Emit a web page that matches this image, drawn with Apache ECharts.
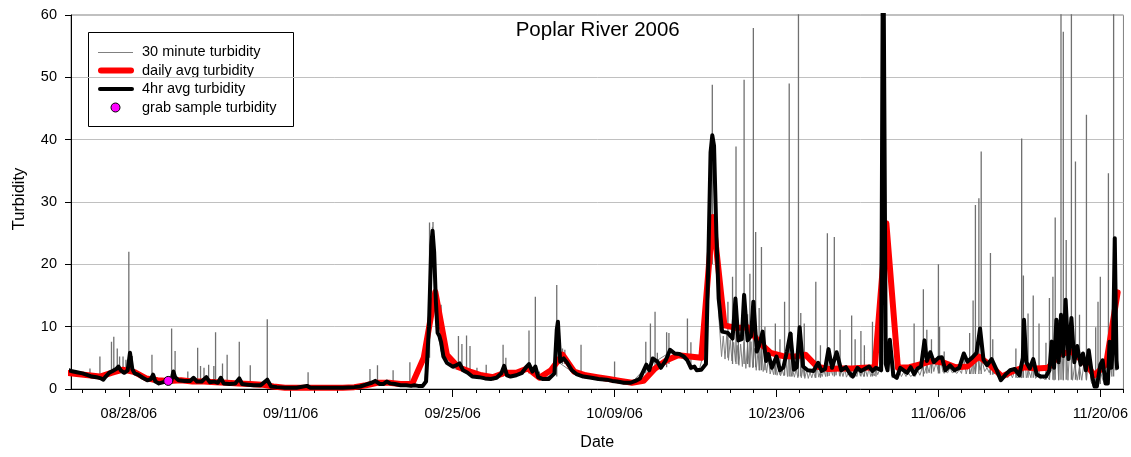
<!DOCTYPE html>
<html>
<head>
<meta charset="utf-8">
<title>Poplar River 2006</title>
<script src="https://cdn.jsdelivr.net/npm/echarts@6/dist/echarts.min.js"></script>
<style>
  html, body { margin: 0; padding: 0; background: #fff; }
  #chart { width: 1131px; height: 457px; }
</style>
</head>
<body>
<div id="chart"></div>
<script>
// Time is measured in days since 08/23/06 00:00.
const START = Date.UTC(2006, 7, 23);
const X_MIN = 0, X_MAX = 91;

const chartTitle = 'Poplar River 2006';
const xAxisTitle = 'Date';
const yAxisTitle = 'Turbidity';
const tickLabels = ['08/28/06', '09/11/06', '09/25/06', '10/09/06', '10/23/06', '11/06/06', '11/20/06'];
const yTicks = [0, 10, 20, 30, 40, 50, 60];

// Daily average turbidity, one value per day starting 08/22/06 (plotted at noon).
const dailyFirstDay = -1;
const dailyAvg = [
  2.6, 2.4, 2.2, 2.0, 2.6, 3.1, 2.7, 1.7, 1.4, 1.3,
  1.4, 1.2, 1.2, 1.1, 1.0, 0.9, 0.8, 0.7, 0.4, 0.2,
  0.2, 0.2, 0.2, 0.2, 0.2, 0.3, 0.6, 1.0, 1.0, 0.8,
  0.8, 5.0, 15.6, 5.5, 3.5, 2.8, 2.2, 1.9, 2.6, 2.6,
  3.3, 1.8, 3.0, 5.5, 2.8, 2.2, 1.9, 1.6, 1.3, 1.0,
  1.3, 3.3, 4.6, 5.4, 5.2, 5.0, 27.6, 10.2, 9.8, 9.9,
  7.5, 5.8, 5.3, 5.2, 5.5, 3.6, 3.2, 3.3, 3.3, 3.4,
  3.5, 26.6, 3.4, 3.5, 4.0, 4.5, 4.2, 3.5, 3.6, 5.2,
  3.8, 2.0, 2.9, 3.5, 3.3, 3.4, 5.6, 6.0, 4.5, 2.2,
  4.0, 15.5
];

// 4-hour average turbidity: [day, value]
const fourHourAvg = [
  [-0.2, 3.0], [0, 2.9], [0.5, 2.7], [1.0, 2.5], [1.5, 2.2], [1.8, 2.0], [2.2, 1.9], [2.6, 1.7], [2.8, 1.5],
  [3.0, 2.0], [3.3, 2.6], [3.6, 2.9], [3.9, 3.2], [4.1, 3.6], [4.3, 3.0], [4.6, 2.6], [4.9, 3.0], [5.1, 5.8],
  [5.3, 3.2], [5.5, 2.5], [5.8, 2.3], [6.2, 1.8], [6.6, 1.4], [6.9, 1.6], [7.1, 2.3], [7.3, 1.2], [7.6, 0.9],
  [8.0, 1.1], [8.4, 1.3], [8.7, 1.5], [8.85, 2.8], [9.0, 1.9], [9.3, 1.4], [9.8, 1.3], [10.3, 1.3], [10.6, 1.8],
  [10.9, 1.2], [11.3, 1.2], [11.7, 1.9], [12.0, 1.1], [12.4, 1.2], [12.7, 1.0], [12.95, 1.8], [13.2, 0.9],
  [13.7, 0.8], [14.2, 0.9], [14.55, 1.7], [14.8, 0.8], [15.3, 0.7], [15.8, 0.6], [16.4, 0.6], [16.97, 1.5],
  [17.3, 0.4], [17.8, 0.3], [18.5, 0.2], [19.5, 0.2], [20.4, 0.5], [20.7, 0.2], [21.5, 0.2], [22.5, 0.2],
  [23.5, 0.2], [24.5, 0.3], [25.0, 0.4], [25.5, 0.7], [26.0, 1.0], [26.3, 1.3], [26.7, 0.8], [27.0, 0.8],
  [27.3, 1.2], [27.6, 0.9], [28.0, 0.8], [28.5, 0.6], [29.0, 0.6], [29.4, 0.5], [29.7, 0.6], [30.0, 0.5],
  [30.4, 0.5], [30.7, 1.2], [30.95, 10], [31.15, 23], [31.26, 25.4], [31.4, 22], [31.55, 14], [31.7, 9.0],
  [31.85, 8.5], [32.0, 7.5], [32.2, 5.2], [32.5, 4.2], [33.0, 3.6], [33.3, 3.8], [33.6, 4.1], [33.9, 3.0],
  [34.3, 2.6], [34.7, 2.0], [35.3, 1.9], [35.8, 1.7], [36.3, 1.6], [36.8, 1.8], [37.2, 2.5], [37.45, 3.7],
  [37.7, 2.2], [38.0, 2.0], [38.5, 2.2], [39.0, 2.6], [39.4, 3.6], [39.6, 4.0], [39.9, 2.8], [40.15, 3.6],
  [40.4, 1.9], [40.8, 1.6], [41.3, 1.6], [41.8, 2.5], [42.0, 9.5], [42.1, 10.8], [42.3, 4.4], [42.6, 4.9],
  [42.9, 4.2], [43.3, 3.0], [43.7, 2.4], [44.3, 2.0], [45.0, 1.8], [45.6, 1.6], [46.3, 1.5], [46.8, 1.3],
  [47.2, 1.2], [47.8, 1.0], [48.4, 1.0], [48.8, 1.3], [49.2, 1.7], [49.5, 2.9], [49.75, 3.9], [50.0, 3.0],
  [50.3, 4.9], [50.7, 4.4], [51.0, 3.4], [51.4, 4.5], [51.8, 6.3], [52.2, 5.7], [52.6, 5.6], [53.0, 5.2],
  [53.3, 4.6], [53.6, 3.4], [53.9, 3.6], [54.1, 3.0], [54.5, 3.1], [54.9, 4.0], [55.1, 20], [55.3, 38],
  [55.45, 40.7], [55.6, 39], [55.8, 25], [56.0, 14.5], [56.3, 9.2], [56.8, 9.0], [57.2, 8.1], [57.45, 14.5],
  [57.7, 7.8], [58.0, 8.0], [58.2, 15.1], [58.5, 7.8], [58.8, 8.5], [59.0, 14.0], [59.3, 6.0], [59.5, 7.0],
  [59.8, 9.2], [60.1, 4.5], [60.3, 5.6], [60.6, 3.4], [61.0, 5.2], [61.3, 3.0], [61.6, 3.5], [61.9, 6.0],
  [62.2, 8.9], [62.5, 3.1], [62.75, 3.5], [63.0, 9.9], [63.3, 3.6], [63.7, 3.0], [64.2, 2.9], [64.6, 4.2],
  [64.9, 2.9], [65.2, 3.2], [65.5, 6.4], [65.8, 3.4], [66.2, 5.9], [66.6, 3.0], [67.0, 3.5], [67.3, 2.6],
  [67.6, 2.0], [68.0, 3.4], [68.3, 2.9], [68.7, 3.3], [69.0, 3.6], [69.3, 2.9], [69.6, 3.4], [69.85, 3.2],
  [70.05, 3.0], [70.22, 80], [70.32, 80], [70.45, 4.0], [70.6, 3.0], [70.8, 7.9], [71.1, 2.2], [71.4, 1.8],
  [71.7, 3.4], [72.0, 3.0],
  [72.3, 2.6], [72.6, 3.5], [72.9, 2.4], [73.2, 3.3], [73.5, 3.6], [73.8, 7.8], [74.0, 4.5], [74.3, 5.9],
  [74.6, 4.3], [75.0, 5.0], [75.3, 5.1], [75.6, 3.0], [76.0, 3.8], [76.4, 3.0], [76.8, 3.4], [77.2, 5.7],
  [77.5, 4.4], [77.9, 5.0], [78.3, 5.8], [78.6, 9.7], [78.9, 4.7], [79.2, 3.8], [79.6, 4.8], [80.0, 3.2],
  [80.4, 1.4], [80.8, 2.3], [81.2, 3.0], [81.6, 3.2], [82.0, 2.2], [82.3, 5.0], [82.4, 11.1], [82.6, 4.3],
  [82.9, 3.3], [83.2, 4.8], [83.5, 2.3], [83.9, 2.0], [84.3, 2.0], [84.6, 3.0], [84.8, 7.6], [85.0, 3.4],
  [85.2, 11.1], [85.4, 4.3], [85.6, 11.9], [85.8, 5.3], [86.0, 14.3], [86.25, 4.8], [86.5, 11.4], [86.75, 4.3],
  [87.0, 6.9], [87.3, 3.9], [87.5, 5.7], [87.75, 3.0], [88.0, 6.2], [88.3, 2.0], [88.5, 0.4], [88.7, 0.4],
  [89.0, 3.9], [89.2, 4.6], [89.45, 0.9], [89.65, 0.9], [89.8, 7.6], [89.95, 3.4], [90.1, 6.8], [90.25, 24.2],
  [90.4, 4.6], [90.45, 3.4]
];

// 30-minute turbidity, continuous trace: [day, value]
const halfHourTrace = [
  [-0.2, 2.9], [1, 2.4], [1.8, 2.0], [2.8, 1.5], [3.5, 2.6], [4.1, 3.4], [4.6, 2.5], [5.1, 4.5], [5.5, 2.4],
  [6.5, 1.4], [7.6, 0.9], [8.5, 1.2], [9.5, 1.3], [10.5, 1.2], [12, 1.0], [13.5, 0.8], [15, 0.7], [16.5, 0.5],
  [17.5, 0.3], [19, 0.2], [22, 0.1], [24.5, 0.3], [26.3, 1.1], [27.3, 1.0], [29, 0.5], [30.5, 0.5], [30.9, 6],
  [31.1, 20], [31.25, 26], [31.4, 20], [31.6, 12], [31.8, 8], [32.2, 5], [33, 3.3], [34, 3.0], [35, 1.8],
  [36.5, 1.6], [37.45, 3.3], [38, 1.9], [39.6, 3.6], [40.4, 1.7], [41.8, 2.2], [42.05, 10], [42.3, 4.1],
  [43.3, 2.8], [45, 1.7], [47, 1.1], [48.4, 0.9], [49.75, 3.5], [51.8, 5.9], [53, 4.8], [54.3, 2.9], [55.0, 8],
  [55.3, 37], [55.5, 40], [55.7, 35], [56.0, 12], [56.25, 5.2],
  [56.4, 8.5], [56.55, 4.8], [56.7, 8.8], [56.85, 4.6], [57.0, 7.9], [57.15, 4.5], [57.3, 7.5], [57.45, 4.4],
  [57.6, 7.0], [57.75, 3.8], [57.9, 7.2], [58.05, 3.6], [58.2, 7.5], [58.35, 3.3], [58.5, 7.0], [58.65, 3.5],
  [58.8, 7.6], [58.95, 3.4], [59.1, 6.5], [59.25, 3.0], [59.4, 6.0], [59.55, 3.0], [59.7, 7.5], [59.85, 2.8],
  [60.0, 4.8], [60.15, 2.6], [60.3, 5.0], [60.45, 2.4], [60.6, 3.5], [60.75, 2.3], [60.9, 4.6], [61.05, 2.2],
  [61.2, 3.2], [61.35, 2.1], [61.5, 3.0], [61.65, 2.1], [61.8, 5.0], [61.95, 2.0], [62.1, 7.0], [62.25, 2.0],
  [62.4, 3.0], [62.55, 1.9], [62.7, 3.2], [62.85, 1.8], [63.0, 8.0], [63.15, 1.8], [63.3, 3.5], [63.45, 1.7],
  [63.6, 3.0], [63.75, 1.7], [63.9, 2.7], [64.05, 1.8], [64.2, 2.8], [64.35, 1.8], [64.5, 3.8], [64.65, 1.9],
  [64.8, 2.8], [64.95, 2.0], [65.1, 3.0], [65.25, 2.0], [65.4, 5.5], [65.55, 2.1], [65.7, 3.2], [65.85, 2.2],
  [66.0, 4.5], [66.15, 2.2], [66.3, 4.8], [66.45, 2.1], [66.6, 2.9], [66.75, 2.0], [66.9, 3.2], [67.05, 1.9],
  [67.2, 2.5], [67.35, 1.9], [67.5, 2.0], [67.65, 1.9], [67.8, 2.6], [67.95, 2.0], [68.1, 3.2], [68.25, 2.1],
  [68.4, 2.8], [68.55, 2.0], [68.7, 3.1], [68.85, 2.0], [69.0, 3.4], [69.15, 2.0], [69.3, 2.8], [69.45, 2.1],
  [69.6, 3.2], [69.75, 2.3], [69.9, 3.0], [70.2, 70], [70.33, 70], [70.45, 4.5],
  [70.6, 4.5], [70.8, 6.5], [71.0, 1.8], [71.2, 2.0], [71.4, 1.6], [71.6, 3.0], [71.8, 2.0], [72.0, 2.7],
  [72.2, 2.0], [72.4, 2.6], [72.6, 2.0], [72.8, 2.3], [73.0, 2.0], [73.2, 3.0], [73.4, 2.2], [73.6, 3.4],
  [73.8, 2.5], [74.0, 4.0], [74.2, 2.6], [74.4, 5.0], [74.6, 2.8], [74.8, 4.3], [75.0, 2.8], [75.2, 4.6],
  [75.4, 2.7], [75.6, 2.8], [75.8, 2.6], [76.0, 3.4], [76.2, 2.6], [76.4, 2.8], [76.6, 2.5], [76.8, 3.1],
  [77.0, 2.5], [77.2, 5.0], [77.4, 2.4], [77.6, 4.0], [77.8, 2.4], [78.0, 4.6], [78.2, 2.5], [78.4, 5.5],
  [78.6, 3.0], [78.8, 4.4], [79.0, 2.8], [79.2, 3.4], [79.4, 2.6], [79.6, 4.3], [79.8, 2.4], [80.0, 2.9],
  [80.2, 1.8], [80.4, 1.2], [80.6, 1.6], [80.8, 2.1], [81.0, 1.8], [81.2, 2.7], [81.4, 1.8], [81.6, 2.9],
  [81.8, 1.8], [82.0, 2.0], [82.2, 1.8], [82.4, 8.0], [82.6, 1.8], [82.8, 3.0], [83.0, 1.8], [83.2, 4.3],
  [83.4, 1.7], [83.6, 2.1], [83.8, 1.6], [84.0, 1.9], [84.2, 1.5], [84.4, 2.0], [84.6, 1.5], [84.8, 6.0],
  [85.0, 1.4], [85.2, 8.5], [85.4, 1.4], [85.6, 9.5], [85.8, 1.4], [86.0, 11.0], [86.2, 1.4], [86.4, 8.0],
  [86.6, 1.4], [86.8, 4.0], [87.0, 1.4], [87.2, 3.5], [87.4, 1.4], [87.6, 4.5], [87.8, 1.4], [88.0, 5.0],
  [88.2, 1.2], [88.4, 0.4], [88.6, 0.3], [88.8, 0.4], [89.0, 3.0], [89.2, 1.5], [89.4, 0.8], [89.6, 0.8],
  [89.8, 5.5], [90.0, 2.0], [90.2, 12.0], [90.4, 3.0], [90.5, 3.2]
];

// 30-minute turbidity, short-lived excursions: [day, low, high]
const halfHourSpikes = [
  [1.64, 2.2, 3.3], [2.5, 1.8, 5.2], [3.5, 2.5, 7.6], [3.7, 2.6, 8.4], [4.0, 3.0, 6.5], [4.2, 3.0, 5.2],
  [4.5, 2.7, 5.2], [4.75, 2.8, 4.7], [5.0, 3.0, 22.0], [5.3, 2.6, 5.3], [7.0, 1.5, 5.5], [8.7, 1.3, 9.7],
  [9.0, 1.5, 6.1], [10.1, 1.2, 2.8], [10.95, 1.2, 6.6], [11.2, 1.2, 3.7], [11.5, 1.2, 3.4], [11.9, 1.2, 3.9],
  [12.35, 1.1, 3.7], [12.5, 1.1, 9.1], [13.1, 1.0, 4.1], [13.5, 0.9, 5.5], [14.55, 0.9, 7.6], [15.5, 0.8, 3.8],
  [16.97, 0.6, 11.2], [20.5, 0.2, 2.7], [25.85, 0.6, 3.2], [26.5, 0.9, 3.8], [27.85, 0.8, 3.0], [29.3, 0.6, 4.3],
  [31.0, 5, 26.7], [31.3, 20, 26.8], [32.0, 6, 13.5], [33.5, 3.5, 8.5], [33.8, 3.5, 7.2], [34.2, 2.6, 8.6],
  [34.5, 2.3, 6.9], [35.1, 1.9, 3.4], [35.9, 1.7, 3.9], [37.36, 2, 7.1], [37.6, 2, 5.0], [39.6, 2.5, 9.4],
  [40.15, 2.2, 14.8], [40.5, 1.6, 2.8], [42.0, 2.0, 16.7], [42.2, 4, 8], [42.5, 4, 6.5], [42.7, 4, 6.3],
  [44.1, 2.0, 7.1], [47.0, 1.2, 4.4], [49.7, 2.5, 7.6], [50.1, 2.8, 10.5], [50.5, 3.5, 12.4], [50.7, 3.8, 5.8],
  [51.5, 3.5, 9.1], [51.7, 4, 9.0], [53.3, 4, 11.3], [53.6, 3, 7.5], [55.45, 20, 48.8], [56.8, 5, 14],
  [57.2, 4, 18.0], [57.5, 4, 38.9], [57.7, 4, 11], [58.2, 4, 49.6], [58.5, 4, 12], [58.7, 3.5, 18.5],
  [59.0, 3.5, 57.9], [59.2, 3.5, 25.2], [59.5, 3, 13], [59.7, 3, 22.8], [60.0, 3, 10], [60.9, 2.3, 10.5],
  [61.3, 2.3, 8], [61.7, 2.2, 14.0], [62.1, 2.0, 49.0], [62.35, 2.0, 9], [62.9, 2.0, 63], [63.1, 2, 12.2],
  [63.4, 2, 10.5], [64.4, 1.8, 17.2], [64.8, 1.8, 7], [65.4, 2.0, 25.0], [66.0, 2.0, 24.4], [66.5, 2.0, 9.5],
  [67.5, 2.0, 11.8], [67.8, 2.0, 8], [68.3, 2.0, 9.3], [68.6, 2.0, 7], [69.3, 2.0, 10.8], [69.6, 2, 6],
  [72.9, 2.0, 10.5], [73.7, 2.0, 16.0], [74.0, 2.5, 9.5], [74.4, 2.5, 8], [75.0, 2.5, 20.0], [75.1, 2.5, 10],
  [75.5, 2.5, 6], [77.7, 2.4, 9], [78.0, 2.4, 14.2], [78.2, 2.4, 29.5], [78.5, 2.4, 30.6], [78.7, 2.4, 38.1],
  [79.5, 2.3, 21.8], [79.7, 2.3, 8], [81.7, 1.8, 6.5], [82.2, 1.8, 40.2], [82.35, 1.8, 18.2], [82.75, 1.8, 12.1],
  [83.2, 1.8, 15.0], [83.7, 1.8, 10.5], [84.3, 1.5, 7.4], [84.6, 1.5, 14.6], [84.9, 1.5, 18.0], [85.1, 1.5, 27.5],
  [85.4, 1.5, 11.1], [85.6, 1.5, 65], [85.8, 1.5, 57.3], [86.05, 1.5, 23.9], [86.5, 1.5, 64], [86.85, 1.5, 36.5],
  [87.2, 1.5, 11.9], [87.8, 1.5, 44.0], [88.6, 0.4, 9.9], [88.8, 0.8, 14.0], [89.0, 0.8, 18.0], [89.7, 1.0, 34.6],
  [90.15, 2, 62], [90.3, 3, 9.9]
];

// Grab sample turbidity: [day, value]
const grabSamples = [[8.41, 1.3]];

const FONT = 'Liberation Sans, Arial, sans-serif';

function labelDay(label) {
  const [mm, dd, yy] = label.split('/').map(Number);
  return (Date.UTC(2000 + yy, mm - 1, dd) - START) / 86400000;
}
const majorDays = tickLabels.map(labelDay);
const labelByDay = {};
majorDays.forEach((d, i) => { labelByDay[d] = tickLabels[i]; });
const minorDays = [];
for (let d = majorDays[0] % 2; d <= X_MAX; d += 2) minorDays.push(d);

const dailySeries = dailyAvg.map((v, i) => [dailyFirstDay + i + 0.5, v]);
const spikeSeries = [];
halfHourSpikes.forEach(([d, lo, hi]) => {
  spikeSeries.push([d, lo], [d, hi], [d, '-']);
});

const chart = echarts.init(document.getElementById('chart'), null, { renderer: 'canvas' });

const legendRows = [
  { text: '30 minute turbidity', y: 52 },
  { text: 'daily avg turbidity', y: 70.5 },
  { text: '4hr avg turbidity', y: 89 },
  { text: 'grab sample turbidity', y: 107.5 }
];

chart.setOption({
  animation: false,
  backgroundColor: '#fff',
  textStyle: { fontFamily: FONT },
  grid: {
    left: 71, right: 7, top: 15, bottom: 68,
    show: true, borderColor: '#808080', borderWidth: 1, backgroundColor: 'transparent'
  },
  xAxis: [
    {
      type: 'value', min: X_MIN, max: X_MAX,
      name: xAxisTitle, nameLocation: 'middle', nameGap: 46,
      nameTextStyle: { fontFamily: FONT, fontSize: 16, color: '#000' },
      axisLine: { show: true, onZero: false, lineStyle: { color: '#000', width: 1 } },
      axisTick: { show: true, customValues: majorDays, length: 8, lineStyle: { color: '#000' } },
      axisLabel: {
        customValues: majorDays, margin: 17, color: '#000', fontFamily: FONT, fontSize: 14.5,
        formatter: v => labelByDay[v] || ''
      },
      splitLine: { show: false }
    },
    {
      type: 'value', min: X_MIN, max: X_MAX, position: 'bottom',
      axisLine: { show: false, onZero: false },
      axisTick: { show: true, customValues: minorDays, length: 4, lineStyle: { color: '#000' } },
      axisLabel: { show: false },
      splitLine: { show: false }
    }
  ],
  yAxis: {
    type: 'value', min: yTicks[0], max: yTicks[yTicks.length - 1], interval: 10,
    axisLine: { show: true, lineStyle: { color: '#000', width: 1 } },
    axisTick: { show: true, length: 6, lineStyle: { color: '#000' } },
    axisLabel: { margin: 14, color: '#000', fontFamily: FONT, fontSize: 14.5 },
    splitLine: { show: true, lineStyle: { color: '#c0c0c0', width: 1 } }
  },
  series: [
    {
      name: '30 minute turbidity', type: 'line', data: halfHourTrace,
      showSymbol: false, symbol: 'none', clip: true, z: 1,
      lineStyle: { color: '#808080', width: 1 }
    },
    {
      name: '30 minute turbidity', type: 'line', data: spikeSeries,
      showSymbol: false, symbol: 'none', clip: true, connectNulls: false, z: 1,
      lineStyle: { color: '#707070', width: 1.3 }
    },
    {
      name: 'daily avg turbidity', type: 'line', data: dailySeries,
      showSymbol: false, symbol: 'none', clip: true, z: 2,
      lineStyle: { color: '#ff0000', width: 6, cap: 'round', join: 'round' }
    },
    {
      name: '4hr avg turbidity', type: 'line', data: fourHourAvg,
      showSymbol: false, symbol: 'none', clip: true, z: 3,
      lineStyle: { color: '#000000', width: 4, cap: 'round', join: 'round' }
    },
    {
      name: 'grab sample turbidity', type: 'scatter', data: grabSamples,
      symbol: 'circle', symbolSize: 9, z: 4,
      itemStyle: { color: '#ff00ff', borderColor: '#000', borderWidth: 1, opacity: 1 }
    }
  ],
  graphic: [
    {
      type: 'text', x: 597.7, y: 30.2, z: 100,
      style: { text: chartTitle, fill: '#000', font: '20.5px ' + FONT, align: 'center', verticalAlign: 'middle' }
    },
    {
      type: 'text', x: 19.3, y: 199, rotation: Math.PI / 2, z: 100,
      style: { text: yAxisTitle, fill: '#000', font: '16.5px ' + FONT, align: 'center', verticalAlign: 'middle' }
    },
    {
      type: 'group', z: 100,
      children: [
        { type: 'rect', shape: { x: 88.5, y: 32.5, width: 205, height: 94 },
          style: { fill: '#fff', stroke: '#000', lineWidth: 1 } },
        { type: 'line', shape: { x1: 98, y1: 52.5, x2: 133, y2: 52.5 },
          style: { stroke: '#808080', lineWidth: 1 } },
        { type: 'line', shape: { x1: 101, y1: 70.5, x2: 131, y2: 70.5 },
          style: { stroke: '#ff0000', lineWidth: 6, lineCap: 'round' } },
        { type: 'line', shape: { x1: 100, y1: 89, x2: 132, y2: 89 },
          style: { stroke: '#000', lineWidth: 4, lineCap: 'round' } },
        { type: 'circle', shape: { cx: 115.5, cy: 107.5, r: 4.5 },
          style: { fill: '#ff00ff', stroke: '#000', lineWidth: 1 } }
      ].concat(legendRows.map(r => ({
        type: 'text', x: 142, y: r.y,
        style: { text: r.text, fill: '#000', font: '14.5px ' + FONT, verticalAlign: 'middle' }
      })))
    }
  ]
});
</script>
</body>
</html>
